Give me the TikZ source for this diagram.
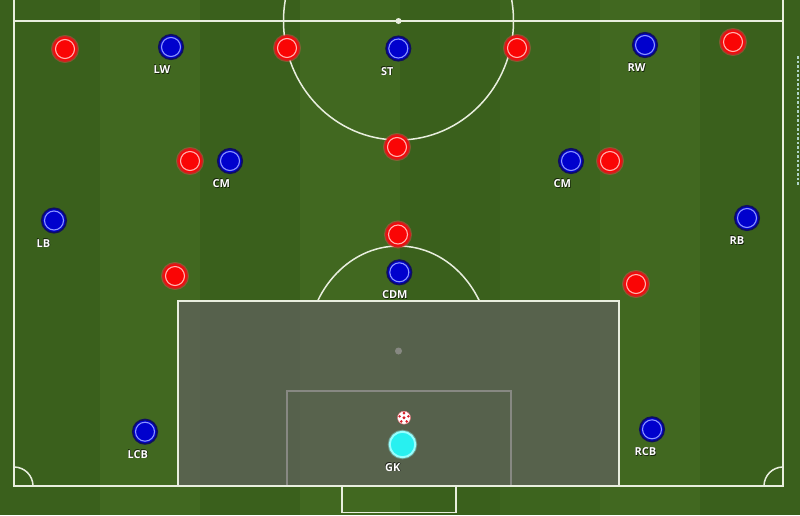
\documentclass[tikz,border=0pt]{standalone}
\usepackage{fontspec}
\newfontfamily\lblfont{Open Sans}
\definecolor{grassD}{RGB}{58,96,28}
\definecolor{grassL}{RGB}{65,104,32}
\definecolor{grassM}{RGB}{61,100,30}
\definecolor{pline}{RGB}{232,238,222}
\definecolor{boxgray}{RGB}{98,98,95}
\definecolor{pred}{RGB}{250,5,5}
\definecolor{predrim}{RGB}{210,30,30}
\definecolor{predglow}{RGB}{255,90,90}
\definecolor{predring}{RGB}{255,180,175}
\definecolor{pblue}{RGB}{0,0,205}
\definecolor{pbluerim}{RGB}{15,15,95}
\definecolor{pbluering}{RGB}{140,150,255}
\definecolor{pcyan}{RGB}{40,240,240}
\definecolor{pcyanglow}{RGB}{150,255,255}
\definecolor{ballred}{RGB}{215,30,40}
\definecolor{edgedash}{RGB}{175,212,200}
\tikzset{
  fieldline/.style={draw=pline, line width=1.5pt},
  redp/.style={circle, inner sep=0pt, minimum size=24.5pt, fill=pred, draw=predrim, line width=1.5pt,
    preaction={draw=predglow, line width=3.5pt, draw opacity=0.35},
    path picture={\draw[predring, line width=1.1pt] (path picture bounding box.center) circle (9.5pt);}},
  bluep/.style={circle, inner sep=0pt, minimum size=24.5pt, fill=pblue, draw=pbluerim, line width=1.6pt,
    path picture={\draw[pbluering, line width=1.1pt] (path picture bounding box.center) circle (9.5pt);}},
  gkp/.style={circle, inner sep=0pt, minimum size=25.5pt, fill=pcyan, draw=pcyanglow, line width=2pt,
    preaction={draw=pcyanglow, line width=4pt, draw opacity=0.35}},
  ballp/.style={circle, inner sep=0pt, minimum size=13pt, fill=white, draw=ballred!60, line width=0.5pt,
    path picture={
      \fill[ballred] (path picture bounding box.center) circle (1.7pt);
      \foreach \a in {90,162,234,306,18}{\fill[ballred] ([shift={(\a:4.6pt)}]path picture bounding box.center) circle (1.4pt);}
    }},
  lbl/.style={text=white, inner sep=0pt, anchor=base west, font=\lblfont\bfseries\fontsize{11}{11}\selectfont},
  lblsh/.style={text=black, text opacity=0.65, inner sep=0pt, anchor=base west, font=\lblfont\bfseries\fontsize{11}{11}\selectfont}
}
\newcommand\plabel[2]{%
  \node[lblsh] at ([xshift=-16.8pt,yshift=-27.2pt]#1.center) {#2};
  \node[lblsh] at ([xshift=-18.1pt,yshift=-25.9pt]#1.center) {#2};
  \node[lbl] (#1-lab) at ([xshift=-17.5pt,yshift=-26.5pt]#1.center) {#2};}
\begin{document}
\begin{tikzpicture}[x=1pt,y=-1pt]
\useasboundingbox (0,0) rectangle (800,515);
\clip (0,0) rectangle (800,515);
% grass stripes
\fill[grassD] (0,0) rectangle (800,515);
\foreach \x in {100,300,600}{\fill[grassL] (\x,0) rectangle (\x+100,515);}
\fill[grassM] (500,0) rectangle (600,515);
% field lines
\draw[fieldline] (14,0) -- (14,486) -- (783,486) -- (783,0);
\draw[fieldline] (14,21) -- (783,21);
\draw[fieldline] (398.5,21) ellipse [x radius=115, y radius=119];
\fill[pline] (398.5,21) circle (3);
\begin{scope}
  \clip (0,0) rectangle (800,301);
  \draw[fieldline] (398.5,351) ellipse [x radius=92, y radius=105];
\end{scope}
\begin{scope}
  \clip (14,0) rectangle (783,486);
  \draw[fieldline] (14,486) circle (19);
  \draw[fieldline] (783,486) circle (19);
\end{scope}
\draw[fieldline] (342,486) -- (342,512.5) -- (456,512.5) -- (456,486);
% six-yard box and spot (under the overlay)
\draw[fieldline] (287,486) -- (287,391) -- (511,391) -- (511,486);
\fill[pline] (398.5,351) circle (3.5);
% penalty box overlay
\fill[boxgray, opacity=0.72] (178,301) rectangle (619,486);
\draw[fieldline] (178,301) rectangle (619,486);
% right edge strip
\draw[edgedash, line width=2pt, dash pattern=on 2.5pt off 2pt] (798,56) -- (798,185);
% red players
\node[redp] (r1) at (65,49) {};
\node[redp] (r2) at (287,48) {};
\node[redp] (r3) at (517,48) {};
\node[redp] (r4) at (733,42) {};
\node[redp] (r5) at (190,161) {};
\node[redp] (r6) at (397,147) {};
\node[redp] (r7) at (610,161) {};
\node[redp] (r8) at (398,234.5) {};
\node[redp] (r9) at (175,276) {};
\node[redp] (r10) at (636,284) {};
% blue players
\node[bluep] (lw) at (171,47) {};
\node[bluep] (st) at (398.3,48.5) {};
\node[bluep] (rw) at (645,45) {};
\node[bluep] (cml) at (230,161) {};
\node[bluep] (cmr) at (571,161) {};
\node[bluep] (lb) at (54,220.5) {};
\node[bluep] (rb) at (747,218) {};
\node[bluep] (cdm) at (399.3,272.3) {};
\node[bluep] (lcb) at (145,431.7) {};
\node[bluep] (rcb) at (652,429.3) {};
\node[gkp] (gk) at (402.5,444.5) {};
\node[ballp] (ball) at (404,417.7) {};
% labels
\plabel{lw}{LW}
\plabel{st}{ST}
\plabel{rw}{RW}
\plabel{cml}{CM}
\plabel{cmr}{CM}
\plabel{lb}{LB}
\plabel{rb}{RB}
\plabel{cdm}{CDM}
\plabel{lcb}{LCB}
\plabel{rcb}{RCB}
\plabel{gk}{GK}
\end{tikzpicture}
\end{document}
